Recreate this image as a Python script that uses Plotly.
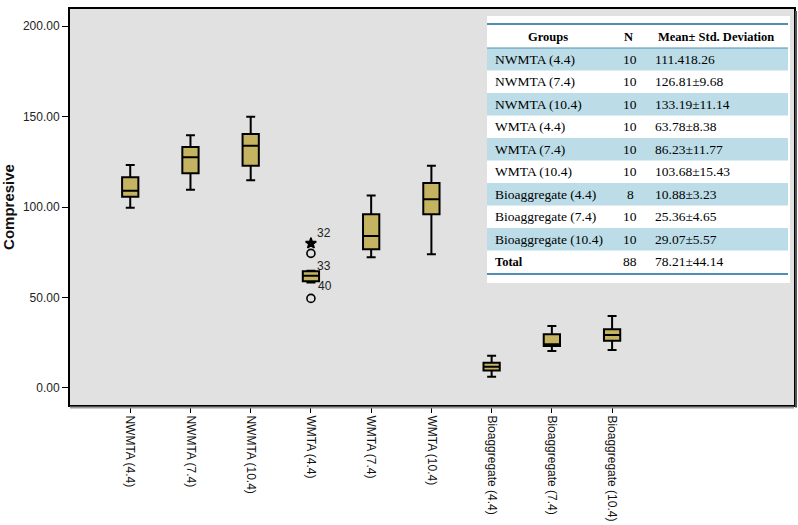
import plotly.graph_objects as go

# ---------------- data ----------------
categories = ["NWMTA (4.4)", "NWMTA (7.4)", "NWMTA (10.4)",
              "WMTA (4.4)", "WMTA (7.4)", "WMTA (10.4)",
              "Bioaggregate (4.4)", "Bioaggregate (7.4)", "Bioaggregate (10.4)"]
positions = [1, 2, 3, 4, 5, 6, 7, 8, 9]
lower_whisker = [99.6, 109.6, 114.8, 58.3, 72.2, 73.9, 6.2, 20.4, 21.0]
q1_values     = [105.7, 118.6, 122.8, 59.0, 76.6, 96.0, 9.6, 23.2, 26.1]
median_values = [109.0, 127.5, 133.9, 62.0, 84.0, 104.3, 11.8, 24.2, 29.3]
q3_values     = [116.4, 133.1, 140.3, 64.5, 96.0, 113.3, 14.0, 29.7, 32.4]
upper_whisker = [123.2, 139.6, 149.9, 64.8, 106.3, 122.8, 17.8, 34.3, 39.8]

# outliers of WMTA (4.4)
outlier_pos = [4, 4, 4]
outlier_values = [79.9, 74.4, 49.5]
outlier_labels = ["32", "33", "40"]
outlier_kind = ["extreme", "mild", "mild"]

# summary table
table_groups = ["NWMTA (4.4)", "NWMTA (7.4)", "NWMTA (10.4)", "WMTA (4.4)", "WMTA (7.4)",
                "WMTA (10.4)", "Bioaggregate (4.4)", "Bioaggregate (7.4)",
                "Bioaggregate (10.4)", "Total"]
table_n = ["10", "10", "10", "10", "10", "10", "8", "10", "10", "88"]
table_mean_sd = ["111.418.26", "126.81±9.68", "133.19±11.14", "63.78±8.38", "86.23±11.77",
                 "103.68±15.43", "10.88±3.23", "25.36±4.65", "29.07±5.57", "78.21±44.14"]
table_header = ["Groups", "N", "Mean± Std. Deviation"]

y_ticks = [0, 50, 100, 150, 200]
y_ticktext = ["0.00", "50.00", "100.00", "150.00", "200.00"]

# ---------------- layout helpers ----------------
W, H = 798, 525
ML, MR, MT, MB = 70, 4, 9, 120
PW, PH = W - ML - MR, H - MT - MB


def px(x):
    return (x - ML) / PW


def py(y):
    return (H - MB - y) / PH


fig = go.Figure()

fig.add_trace(go.Box(
    x=positions, q1=q1_values, median=median_values, q3=q3_values,
    lowerfence=lower_whisker, upperfence=upper_whisker,
    boxpoints=False, width=0.27, whiskerwidth=0.55,
    fillcolor="#c4b462", line=dict(color="black", width=2),
    showlegend=False, hoverinfo="y"))

sym = {"extreme": "star", "mild": "circle-open"}
fig.add_trace(go.Scatter(
    x=outlier_pos, y=outlier_values, mode="markers", showlegend=False,
    marker=dict(symbol=[sym[k] for k in outlier_kind], size=8, color="black",
                line=dict(color="black", width=1.6))))

label_shift = [(4, 10), (4, -13), (5, 12)]
for xv, yv, lab, (dx, dy) in zip(outlier_pos, outlier_values, outlier_labels, label_shift):
    fig.add_annotation(x=xv, y=yv, text=lab, showarrow=False, xshift=dx, yshift=dy,
                       xanchor="left", yanchor="middle",
                       font=dict(family="Liberation Sans, Arial", size=12, color="#222"))

# ---------------- table inset ----------------
shapes = []
tx0, tx1 = 487, 788
shapes.append(dict(type="rect", xref="paper", yref="paper", x0=px(tx0), x1=px(tx1 + 2),
                   y0=py(283), y1=py(16), fillcolor="white", line=dict(width=0), layer="above"))
row_top = 48
row_h = 22.5
for i in range(len(table_groups)):
    if i % 2 == 0 and i < 9:
        shapes.append(dict(type="rect", xref="paper", yref="paper", x0=px(tx0), x1=px(tx1),
                           y0=py(row_top + (i + 1) * row_h), y1=py(row_top + i * row_h),
                           fillcolor="#bcdde8", line=dict(width=0), layer="above"))
for yy, lw in [(24, 2), (48, 1), (274, 2)]:
    shapes.append(dict(type="line", xref="paper", yref="paper", x0=px(tx0), x1=px(tx1),
                       y0=py(yy), y1=py(yy), line=dict(color="#4f8fb5", width=lw), layer="above"))
# frame shadow (bottom and right)
shapes.append(dict(type="line", xref="paper", yref="paper", x0=0, x1=1, y0=py(407.5), y1=py(407.5),
                   line=dict(color="#9a9a9a", width=2)))
shapes.append(dict(type="line", xref="paper", yref="paper", x0=px(796), x1=px(796), y0=py(407.5), y1=py(11),
                   line=dict(color="#555", width=2)))
fig.update_layout(shapes=shapes)

tfont = dict(family="Liberation Serif, Times New Roman", size=13.5, color="#000")
bfont = dict(family="Liberation Serif, Times New Roman", size=12.5, color="#000")
hdr_y = 37
fig.add_annotation(x=px(548), y=py(hdr_y), xref="paper", yref="paper", text="<b>%s</b>" % table_header[0],
                   showarrow=False, xanchor="center", yanchor="middle", font=bfont)
fig.add_annotation(x=px(628), y=py(hdr_y), xref="paper", yref="paper", text="<b>%s</b>" % table_header[1],
                   showarrow=False, xanchor="center", yanchor="middle", font=bfont)
fig.add_annotation(x=px(656), y=py(hdr_y), xref="paper", yref="paper", text="<b>%s</b>" % table_header[2],
                   showarrow=False, xanchor="left", yanchor="middle", font=bfont)
for i, (g, n, m) in enumerate(zip(table_groups, table_n, table_mean_sd)):
    yc = py(row_top + (i + 0.5) * row_h)
    f = bfont if g == "Total" else tfont
    gt = "<b>%s</b>" % g if g == "Total" else g
    fig.add_annotation(x=px(493), y=yc, xref="paper", yref="paper", text=gt, showarrow=False,
                       xanchor="left", yanchor="middle", font=f)
    fig.add_annotation(x=px(630), y=yc, xref="paper", yref="paper", text=n, showarrow=False,
                       xanchor="center", yanchor="middle", font=tfont)
    fig.add_annotation(x=px(653), y=yc, xref="paper", yref="paper", text=m, showarrow=False,
                       xanchor="left", yanchor="middle", font=tfont)

fig.update_layout(
    width=W, height=H,
    margin=dict(l=ML, r=MR, t=MT, b=MB, autoexpand=False),
    paper_bgcolor="white", plot_bgcolor="#e1e1e1",
    xaxis=dict(range=[0, 12.02], tickvals=positions, ticktext=categories, tickangle=90,
               showgrid=False, zeroline=False, showline=True, linecolor="black", linewidth=2,
               mirror=True, ticks="outside", ticklen=6, tickcolor="black",
               tickfont=dict(family="Liberation Sans, Arial", size=12, color="#111")),
    yaxis=dict(range=[-9.4, 209.4], tickvals=y_ticks, ticktext=y_ticktext,
               showgrid=False, zeroline=False, showline=True, linecolor="black", linewidth=2,
               mirror=True, ticks="outside", ticklen=6, tickcolor="black",
               tickfont=dict(family="Liberation Sans, Arial", size=12, color="#222"),
               title=dict(text="<b>Compresive</b>", standoff=6,
                          font=dict(family="Liberation Sans, Arial", size=15, color="#111"))),
)

fig.write_html("out.html", config={"displayModeBar": False},
               post_script="document.body.style.margin='0';")
